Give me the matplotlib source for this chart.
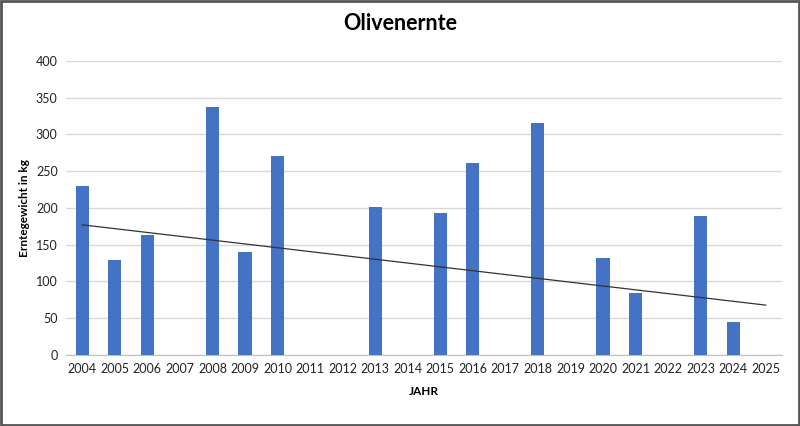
import numpy as np
import matplotlib
matplotlib.use("Agg")
import matplotlib.pyplot as plt
from matplotlib.patches import Rectangle

# Daten: Erntegewicht pro Jahr (fehlende Jahre = keine Ernte)
jahre = [str(j) for j in range(2004, 2026)]
ernte = [230, 129, 163, 0, 337, 140, 271, 0, 0, 201, 0,
         193, 261, 0, 316, 0, 132, 84, 0, 189, 45, 0]
y_ticks = [0, 50, 100, 150, 200, 250, 300, 350, 400]

plt.rcParams['font.family'] = ['Lato', 'DejaVu Sans']

fig = plt.figure(figsize=(8, 4.26), dpi=100)
ax = fig.add_axes([0.0825, 0.167, 0.895, 0.69])

x = np.arange(len(jahre))
werte = np.array(ernte, dtype=float)
# Balken nur für Jahre mit Ernte
maske = werte > 0
ax.bar(x[maske], werte[maske], width=0.4, color='#4472C4', zorder=3)

# lineare Trendlinie (Excel-Stil, leere Jahre als 0)
m, b = np.polyfit(x, werte, 1)
ax.plot(x, m * x + b, color='#333333', linewidth=0.9, zorder=4)

ax.set_xlim(-0.5, len(jahre) - 0.5)
ax.set_ylim(0, 400)
ax.set_yticks(y_ticks)
ax.set_xticks(x)
ax.set_xticklabels(jahre)
ax.grid(axis='y', color='#d9d9d9', linewidth=1, zorder=0)
ax.tick_params(length=0, labelsize=9, colors='#222222', pad=6)
for s in ['top', 'right', 'left']:
    ax.spines[s].set_visible(False)
ax.spines['bottom'].set_color('#bfbfbf')

ax.set_xlabel('JAHR', fontsize=8.5, fontweight='bold', labelpad=8)
ax.set_ylabel('Erntegewicht in kg', fontsize=8.5, fontweight='bold', labelpad=4)
fig.text(0.5, 0.945, 'Olivenernte', ha='center', va='center',
         fontsize=15.5, fontweight='bold')

# grauer Rahmen ums Bild
fig.patches.append(Rectangle((0.001, 0.002), 0.998, 0.996, transform=fig.transFigure,
                             fill=False, edgecolor='#555555', linewidth=2))

fig.savefig('out.png', dpi=100)
